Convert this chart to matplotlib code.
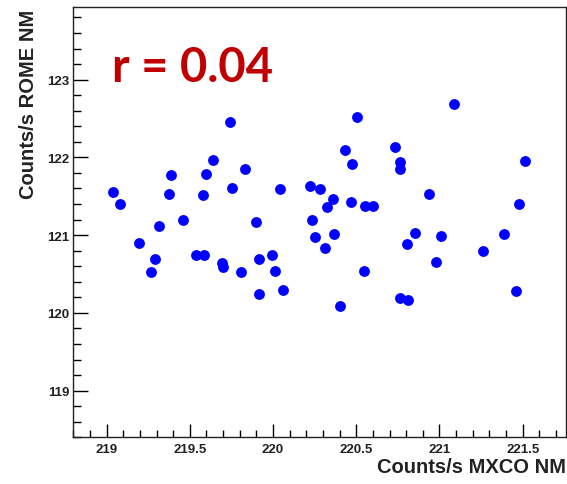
import matplotlib
matplotlib.use("Agg")
import matplotlib.pyplot as plt
from matplotlib.ticker import MultipleLocator

# count rates from the two neutron monitors (counts/s)
mxco = [219.036, 219.080, 219.194, 219.265, 219.290, 219.316, 219.377, 219.387,
        219.457, 219.537, 219.585, 219.579, 219.596, 219.640, 219.696, 219.698,
        219.744, 219.752, 219.806, 219.830, 219.900, 219.918, 219.918, 219.996,
        220.014, 220.041, 220.059, 220.223, 220.280, 220.362, 220.327, 220.233,
        220.253, 220.313, 220.365, 220.400, 221.085, 220.502, 220.432, 220.476,
        220.730, 220.760, 220.760, 221.511, 220.466, 220.554, 220.600, 220.937,
        221.477, 220.546, 220.851, 220.807, 221.007, 220.980, 221.260, 221.390,
        221.460, 220.763, 220.811]
rome = [121.55, 121.40, 120.90, 120.53, 120.69, 121.12, 121.53, 121.77,
        121.20, 120.75, 120.75, 121.51, 121.79, 121.96, 120.64, 120.59,
        122.45, 121.61, 120.53, 121.85, 121.17, 120.69, 120.24, 120.75,
        120.54, 121.59, 120.30, 121.63, 121.59, 121.47, 121.36, 121.20,
        120.97, 120.84, 121.01, 120.09, 122.69, 122.52, 122.10, 121.92,
        122.13, 121.94, 121.85, 121.95, 121.42, 121.37, 121.38, 121.53,
        121.40, 120.54, 121.03, 120.88, 120.99, 120.66, 120.80, 121.01,
        120.28, 120.19, 120.17]
corr_label = "r = 0.04"

W, H = 567, 485
fig = plt.figure(figsize=(W / 100, H / 100), dpi=100)
ax = fig.add_axes([73.3 / W, 1 - 438.3 / H, (566 - 73.3) / W, (438.3 - 8.3) / H])

ax.plot(mxco, rome, "o", color="#0000ff", markersize=7.8, markeredgewidth=0)

ax.set_xlim(218.8, 221.76)
ax.set_ylim(118.4, 123.93)

ax.xaxis.set_major_locator(MultipleLocator(0.5))
ax.xaxis.set_minor_locator(MultipleLocator(0.1))
ax.yaxis.set_major_locator(MultipleLocator(1))
ax.yaxis.set_minor_locator(MultipleLocator(0.2))
ax.xaxis.set_major_formatter(plt.FuncFormatter(lambda v, p: f"{v:g}"))

ax.tick_params(axis="x", which="major", direction="in", length=9.4, width=1, pad=4)
ax.tick_params(axis="x", which="minor", direction="in", length=5, width=1)
ax.tick_params(axis="y", which="major", direction="in", length=10.8, width=1, pad=3)
ax.tick_params(axis="y", which="minor", direction="in", length=5.8, width=1)
ax.tick_params(top=False, right=False, which="both")
for lab in ax.get_xticklabels() + ax.get_yticklabels():
    lab.set_family("Liberation Sans")
    lab.set_fontweight("bold")
    lab.set_fontsize(9.5)
    lab.set_color("#222222")
for sp in ax.spines.values():
    sp.set_linewidth(1)
    sp.set_color("#222222")

fig.text(566 / W, 1 - 468 / H, "Counts/s MXCO NM", ha="right", va="center",
         family="Liberation Sans", fontweight="bold", fontsize=14.5, color="#222222")
fig.text(29 / W, 1 - 10 / H, "Counts/s ROME NM", ha="center", va="top", rotation=90,
         family="Liberation Sans", fontweight="bold", fontsize=14.5, color="#222222")

fig.text(111.7 / W, 1 - 82.3 / H, corr_label, ha="left", va="baseline",
         family=["Lato", "DejaVu Sans"], fontweight="bold", fontsize=34, color="#c00000")

fig.savefig("out.png", dpi=100)
